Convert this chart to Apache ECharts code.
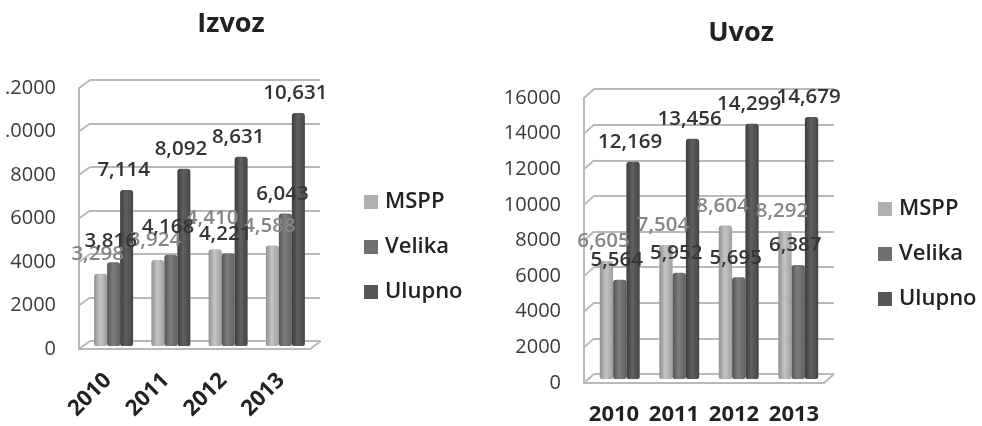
<!DOCTYPE html>
<html><head><meta charset="utf-8">
<style>html,body{margin:0;padding:0;background:#fff}#c{width:982px;height:426px;filter:blur(0.45px)}</style>
<script src="https://cdn.jsdelivr.net/npm/echarts@6/dist/echarts.min.js"></script>
</head><body><div id="c"></div>
<script>
const categories = ['2010','2011','2012','2013'];
const izvozMSPP = [3298,3924,4410,4588];
const izvozVelika = [3816,4168,4221,6043];
const izvozUlupno = [7114,8092,8631,10631];
const uvozMSPP = [6605,7504,8604,8292];
const uvozVelika = [5564,5952,5695,6387];
const uvozUlupno = [12169,13456,14299,14679];
const izvozTicks = [0,2000,4000,6000,8000,10000,12000];
const uvozTicks = [0,2000,4000,6000,8000,10000,12000,14000,16000];
const izvozTickText = {10000:'.0000',12000:'.2000'};
const seriesNames = ['MSPP','Velika','Ulupno'];
const barColors = [['#8f8f8f','#c4c4c4','#a0a0a0'],['#555','#7e7e7e','#606060'],['#3c3c3c','#606060','#454545']];
const labelColors = ['#868686','#363636','#333333'];
const legendColors = ['#b0b0b0','#707070','#565656'];
const font = '"Open Sans"';
const wall = '#b9b9b9';

const grids=[],xAxes=[],yAxes=[],series=[],legends=[],titles=[];
function panel(o){
  const g0=grids.length;
  const barGrid={left:o.bars.l,width:o.bars.w,top:o.bars.t,height:o.bars.h};
  grids.push({left:o.back.l,width:o.back.w,top:o.back.t,height:o.back.h});
  grids.push({left:o.front.l,width:o.front.w,top:o.front.t,height:o.front.h});
  grids.push(barGrid);
  grids.push({...barGrid});
  const hide={show:false};
  xAxes.push({gridIndex:g0,type:'category',data:categories,...hide});
  yAxes.push({gridIndex:g0,type:'value',min:0,max:o.max,interval:2000,
    axisLine:hide,axisTick:hide,axisLabel:hide,splitLine:{show:true,lineStyle:{color:wall,width:2}}});
  xAxes.push({gridIndex:g0+1,type:'category',data:categories,
    axisLine:{show:true,onZero:false,lineStyle:{color:wall,width:2}},axisTick:hide,
    axisLabel:{interval:0,rotate:o.rotate,margin:o.xMargin,color:'#222',fontFamily:font,fontWeight:'bold',fontSize:o.xSize}});
  yAxes.push({gridIndex:g0+1,type:'value',min:0,max:o.max,interval:2000,
    axisLine:{show:true,lineStyle:{color:wall,width:2}},axisTick:hide,splitLine:hide,
    axisLabel:{margin:23,color:'#3a3a3a',fontFamily:font,fontSize:20,
      formatter:v=>(o.tickText&&o.tickText[v])||String(v),hideOverlap:false}});
  [g0+2,g0+3].forEach(g=>{
    xAxes.push({gridIndex:g,type:'category',data:categories,...hide});
    yAxes.push({gridIndex:g,type:'value',min:0,max:o.max,interval:2000,...hide});
  });
  const dx=o.back.l-o.front.l, dy=o.back.t-o.front.t;
  series.push({type:'custom',xAxisIndex:g0+1,yAxisIndex:g0+1,silent:true,z:1,clip:false,
    data:o.ticks.map(v=>[categories[0],v]),
    renderItem(p,api){
      const y=api.coord([categories[0],api.value(1)])[1], x=p.coordSys.x;
      const style={stroke:wall,lineWidth:2,fill:null};
      const kids=[{type:'line',shape:{x1:x,y1:y,x2:x+dx,y2:y+dy},style}];
      if(api.value(1)===0){const r=x+p.coordSys.width;
        kids.push({type:'line',shape:{x1:r,y1:y,x2:r+dx,y2:y+dy},style});}
      return {type:'group',children:kids};
    }});
  o.data.forEach((d,i)=>series.push({type:'bar',name:seriesNames[i],xAxisIndex:g0+2,yAxisIndex:g0+2,data:d,z:3,
    barWidth:o.barW,barGap:'0%',
    itemStyle:{borderRadius:[3,3,2,2],color:{type:'linear',x:0,y:0,x2:1,y2:0,colorStops:[
      {offset:0,color:barColors[i][0]},{offset:.45,color:barColors[i][1]},{offset:1,color:barColors[i][2]}]}}}));
  o.data.forEach((d,i)=>series.push({type:'bar',xAxisIndex:g0+3,yAxisIndex:g0+3,z:10+i,silent:true,
    data:d.map((v,j)=>{
      const lift=(o.labelLift&&o.labelLift[i+':'+j])||0;
      return lift?{value:v,label:{offset:[-3,-lift]}}:v;
    }),
    barWidth:o.barW,barGap:'0%',itemStyle:{color:'transparent'},
    label:{show:true,position:'top',distance:9,offset:[-3,0],color:labelColors[i],fontFamily:font,fontSize:20.5,fontWeight:600,
      formatter:p=>p.value.toLocaleString('en-US')}}));
  legends.push({orient:'vertical',left:o.legL,top:o.legT,padding:0,itemWidth:14,itemHeight:14,itemGap:o.legGap,icon:'rect',selectedMode:false,
    data:seriesNames.map((n,i)=>({name:n,itemStyle:{color:legendColors[i]}})),
    textStyle:{color:'#222',fontFamily:font,fontWeight:600,fontSize:22,padding:[0,0,0,2]}});
  titles.push({text:o.title,left:o.titleX,top:o.titleT,padding:0,textAlign:'center',
    textStyle:{color:'#222',fontFamily:font,fontWeight:'bold',fontSize:27}});
}
panel({title:'Izvoz',titleX:231,titleT:11,max:12000,ticks:izvozTicks,tickText:izvozTickText,
  data:[izvozMSPP,izvozVelika,izvozUlupno],labelLift:{'0:2':12,'1:1':8,'1:0':2},
  back:{l:90,w:230,t:80,h:261},front:{l:79,w:231,t:88,h:261},bars:{l:85,w:229,t:83,h:263},
  barW:13,rotate:45,xMargin:28,xSize:22,legL:364,legT:191,legGap:23});
panel({title:'Uvoz',titleX:741,titleT:20,max:16000,ticks:uvozTicks,
  data:[uvozMSPP,uvozVelika,uvozUlupno],
  back:{l:594,w:240,t:89,h:285},front:{l:584,w:240,t:98,h:285},bars:{l:590,w:238,t:93.4,h:285.6},
  barW:13.3,rotate:0,xMargin:21,xSize:22,legL:878,legT:198,legGap:23});

const chart=echarts.init(document.getElementById('c'),null,{renderer:'canvas'});
chart.setOption({animation:false,backgroundColor:'#fff',title:titles,grid:grids,xAxis:xAxes,yAxis:yAxes,legend:legends,series});
</script></body></html>
